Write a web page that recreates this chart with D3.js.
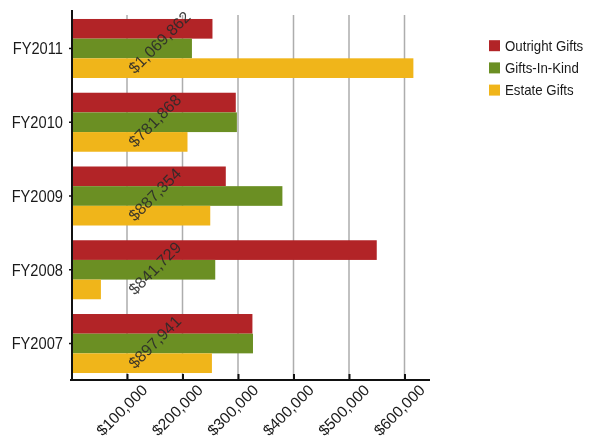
<!DOCTYPE html>
<html>
<head>
<meta charset="utf-8">
<script src="https://cdn.jsdelivr.net/npm/d3@7"></script>
<style>
  body { margin: 0; background: #fff; }
  svg { display: block; font-family: "Liberation Sans", Arial, sans-serif; will-change: transform; }
</style>
</head>
<body>
<svg id="chart" width="596" height="440"></svg>
<script>
const categories = ["FY2011", "FY2010", "FY2009", "FY2008", "FY2007"];
const seriesNames = ["Outright Gifts", "Gifts-In-Kind", "Estate Gifts"];
const outrightGifts = [254000, 296000, 278000, 550000, 326000];
const giftsInKind   = [217000, 298000, 380000, 259000, 327000];
const estateGifts   = [616000, 209000, 250000, 53000, 253000];
const totalLabels = ["$1,069,862", "$781,868", "$887,354", "$841,729", "$897,941"];
const xTicks = [100000, 200000, 300000, 400000, 500000, 600000];
const colors = ["#b22427", "#6b8f23", "#f0b51a"];

const seriesValues = [outrightGifts, giftsInKind, estateGifts];
const svg = d3.select("#chart");

const x = d3.scaleLinear().domain([0, 650000]).range([71.5, 432.25]);
const y = d3.scaleBand().domain(categories).range([11.6, 380.4]).paddingInner(0.2).paddingOuter(0.1);
const ySub = d3.scaleBand().domain(seriesNames).range([0, y.bandwidth()]);
const cy = d => y(d) + y.bandwidth() / 2;

// gridlines
svg.append("g").selectAll("line").data(xTicks).join("line")
  .attr("x1", d => x(d)).attr("x2", d => x(d))
  .attr("y1", 15).attr("y2", 380)
  .attr("stroke", "#adadad").attr("stroke-width", 1.5);

// bars
const groups = svg.append("g").selectAll("g").data(categories).join("g")
  .attr("transform", d => `translate(0,${y(d)})`);
groups.selectAll("rect")
  .data((c, i) => seriesNames.map((s, j) => ({ s, v: seriesValues[j][i], j })))
  .join("rect")
  .attr("x", x(0))
  .attr("y", d => ySub(d.s))
  .attr("width", d => x(d.v) - x(0))
  .attr("height", ySub.bandwidth())
  .attr("fill", d => colors[d.j]);

// y axis
svg.append("line").attr("x1", 72).attr("x2", 72).attr("y1", 10).attr("y2", 381)
  .attr("stroke", "#111").attr("stroke-width", 2);
svg.append("g").selectAll("line").data(categories).join("line")
  .attr("x1", 69).attr("x2", 72)
  .attr("y1", cy).attr("y2", cy)
  .attr("stroke", "#111").attr("stroke-width", 1.5);
svg.append("g").selectAll("text").data(categories).join("text")
  .attr("transform", d => `translate(63,${cy(d)}) scale(0.9,1)`)
  .attr("dy", "0.36em").attr("text-anchor", "end")
  .attr("font-size", 16.3).attr("fill", "#1a1a1a")
  .text(d => d);

// x axis
const xAxis = d3.axisBottom(x).tickValues([0].concat(xTicks)).tickSizeInner(-6).tickSizeOuter(0)
  .tickFormat(d => d === 0 ? "" : d3.format("$,")(d));
const gx = svg.append("g").attr("transform", "translate(0,380)").call(xAxis);
gx.select(".domain").attr("d", `M70,0H430`).attr("stroke", "#111").attr("stroke-width", 2);
gx.selectAll(".tick line").attr("stroke", "#111").attr("stroke-width", 2);
gx.selectAll(".tick text")
  .attr("font-size", 15.5).attr("fill", "#1a1a1a")
  .attr("font-family", "Liberation Sans, Arial, sans-serif")
  .attr("text-anchor", "middle")
  .attr("y", 0).attr("dy", 0)
  .attr("transform", "translate(-2,34) rotate(-45)");

// total labels
svg.append("g").selectAll("text").data(categories).join("text")
  .attr("text-anchor", "start")
  .attr("transform", d => `translate(135,${cy(d) + 26}) rotate(-45)`)
  .attr("font-size", 16).attr("fill", "#2a2a2a").attr("fill-opacity", 0.9)
  .text((d, i) => totalLabels[i]);

// legend
const legend = svg.append("g").selectAll("g").data(seriesNames).join("g")
  .attr("transform", (d, i) => `translate(489,${45.7 + i * 22.2})`);
legend.append("rect").attr("x", 0).attr("y", -5.5).attr("width", 11).attr("height", 11)
  .attr("fill", (d, i) => colors[i]);
legend.append("text").attr("transform", "translate(16,0) scale(0.95,1)").attr("dy", "0.36em")
  .attr("font-size", 14).attr("fill", "#1a1a1a").text(d => d);
</script>
</body>
</html>
